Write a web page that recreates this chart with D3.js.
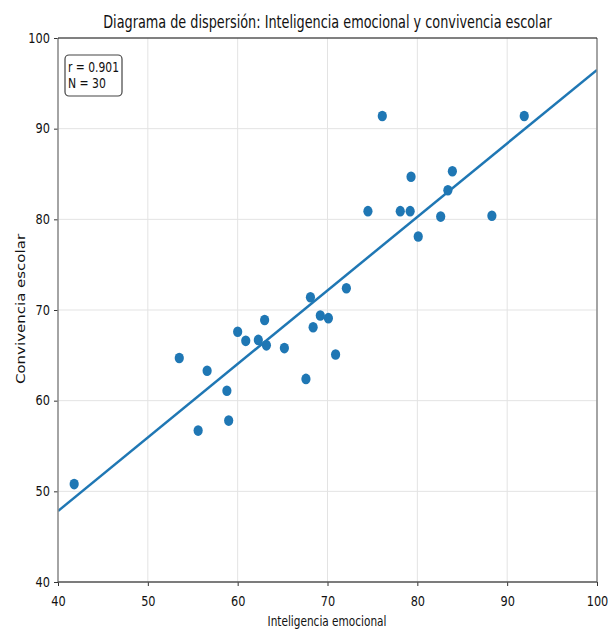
<!DOCTYPE html>
<html>
<head>
<meta charset="utf-8">
<script src="https://cdn.jsdelivr.net/npm/d3@7"></script>
<style>
  html, body { margin: 0; padding: 0; background: #fff; }
  svg { display: block; }
  text { font-family: "DejaVu Sans", sans-serif; }
</style>
</head>
<body>
<svg id="chart" width="608" height="630"></svg>
<script>
const inteligencia = [41.8, 53.5, 56.6, 55.6, 58.8, 59.0, 60.0, 60.9, 62.3, 63.0,
                      63.2, 65.2, 67.6, 68.1, 68.4, 69.2, 70.1, 70.9, 72.1, 74.5,
                      76.1, 78.1, 79.2, 79.3, 80.1, 82.6, 83.4, 83.9, 88.3, 91.9];
const convivencia = [50.8, 64.7, 63.3, 56.7, 61.1, 57.8, 67.6, 66.6, 66.7, 68.9,
                     66.1, 65.8, 62.4, 71.4, 68.1, 69.4, 69.1, 65.1, 72.4, 80.9,
                     91.4, 80.9, 80.9, 84.7, 78.1, 80.3, 83.2, 85.3, 80.4, 91.4];
const xTicks = [40, 50, 60, 70, 80, 90, 100];
const yTicks = [40, 50, 60, 70, 80, 90, 100];
const titleText = "Diagrama de dispersión: Inteligencia emocional y convivencia escolar";
const xLabel = "Inteligencia emocional";
const yLabel = "Convivencia escolar";
const statsLines = ["r = 0.901", "N = 30"];

const SX = 0.84; // horizontal squash of the reference's text
const mLeft = 58, mRight = 597, mTop = 38, mBottom = 582;
const svg = d3.select("#chart");
const x = d3.scaleLinear().domain([40, 100]).range([mLeft, mRight]);
const y = d3.scaleLinear().domain([40, 100]).range([mBottom, mTop]);

function fitText(sel, tx, ty, targetW) {
  const L = sel.node().getComputedTextLength();
  sel.attr("transform", `translate(${tx},${ty}) scale(${targetW / L},1)`);
}

// grid
const g = svg.append("g");
g.selectAll("line.gx").data(xTicks).join("line")
  .attr("x1", d => x(d)).attr("x2", d => x(d)).attr("y1", mTop).attr("y2", mBottom)
  .attr("stroke", "#e3e3e3").attr("stroke-width", 1);
g.selectAll("line.gy").data(yTicks).join("line")
  .attr("y1", d => y(d)).attr("y2", d => y(d)).attr("x1", mLeft).attr("x2", mRight)
  .attr("stroke", "#e3e3e3").attr("stroke-width", 1);

// regression line (least squares from data)
const n = inteligencia.length;
const mx = d3.mean(inteligencia), my = d3.mean(convivencia);
let sxy = 0, sxx = 0;
for (let i = 0; i < n; i++) { sxy += (inteligencia[i]-mx)*(convivencia[i]-my); sxx += (inteligencia[i]-mx)**2; }
const slope = sxy / sxx, intercept = my - slope * mx;

svg.append("defs").append("clipPath").attr("id", "clip")
  .append("rect").attr("x", mLeft).attr("y", mTop).attr("width", mRight-mLeft).attr("height", mBottom-mTop);

// points
svg.append("g").selectAll("ellipse").data(d3.range(n)).join("ellipse")
  .attr("cx", i => x(inteligencia[i])).attr("cy", i => y(convivencia[i]))
  .attr("rx", 4.6).attr("ry", 5.3).attr("fill", "#1f77b4");

svg.append("line").attr("clip-path", "url(#clip)")
  .attr("x1", x(40)).attr("y1", y(intercept + slope*40))
  .attr("x2", x(100)).attr("y2", y(intercept + slope*100))
  .attr("stroke", "#1f77b4").attr("stroke-width", 2.5);

// axes
const xAxis = svg.append("g").attr("transform", `translate(0,${mBottom})`)
  .call(d3.axisBottom(x).tickValues(xTicks).tickSize(4).tickPadding(3));
const yAxis = svg.append("g").attr("transform", `translate(${mLeft},0)`)
  .call(d3.axisLeft(y).tickValues(yTicks).tickSize(4).tickPadding(4));
[xAxis, yAxis].forEach(a => {
  a.select(".domain").remove();
  a.selectAll("text").attr("font-size", 13.5).attr("fill", "#111")
    .style("font-family", '"DejaVu Sans", sans-serif');
  a.selectAll("line").attr("stroke", "#333");
});
xAxis.selectAll("text").attr("dy", "1.26em").attr("transform", `scale(${SX},1)`);
yAxis.selectAll("text").each(function() {
  const t = d3.select(this);
  const xv = +t.attr("x");
  t.attr("x", 0).attr("transform", `translate(${xv},0) scale(${SX},1)`);
});

// spines
svg.append("line").attr("x1", mLeft).attr("x2", mLeft).attr("y1", mTop).attr("y2", mBottom).attr("stroke", "#8a8a8a").attr("stroke-width", 1.5);
svg.append("line").attr("x1", mRight).attr("x2", mRight).attr("y1", mTop).attr("y2", mBottom).attr("stroke", "#8a8a8a").attr("stroke-width", 1.5);
svg.append("line").attr("x1", mLeft).attr("x2", mRight).attr("y1", mTop).attr("y2", mTop).attr("stroke", "#111").attr("stroke-width", 1);
svg.append("line").attr("x1", mLeft).attr("x2", mRight).attr("y1", mBottom).attr("y2", mBottom).attr("stroke", "#555").attr("stroke-width", 1.5);

// title
const title = svg.append("text").attr("text-anchor", "middle").attr("font-size", 17)
  .attr("fill", "#111").text(titleText);
fitText(title, 327.5, 28, 449);

// axis labels
const xl = svg.append("text").attr("text-anchor", "middle").attr("font-size", 14)
  .attr("fill", "#111").text(xLabel);
fitText(xl, 327, 626, 119);
svg.append("text").attr("transform", `translate(25,${(mTop+mBottom)/2 - 1}) scale(${SX},1) rotate(-90)`)
  .attr("text-anchor", "middle").attr("font-size", 15).attr("fill", "#111").text(yLabel);

// stats box
svg.append("rect").attr("x", 65).attr("y", 55).attr("width", 57).attr("height", 41)
  .attr("rx", 4).attr("fill", "#fff").attr("stroke", "#444").attr("stroke-width", 1.2);
svg.append("g").selectAll("text").data(statsLines).join("text")
  .attr("font-size", 14).attr("fill", "#111").text(d => d)
  .each(function(d, i) {
    fitText(d3.select(this), 68, 72 + i*16, i === 0 ? 51 : 38);
  });
</script>
</body>
</html>
